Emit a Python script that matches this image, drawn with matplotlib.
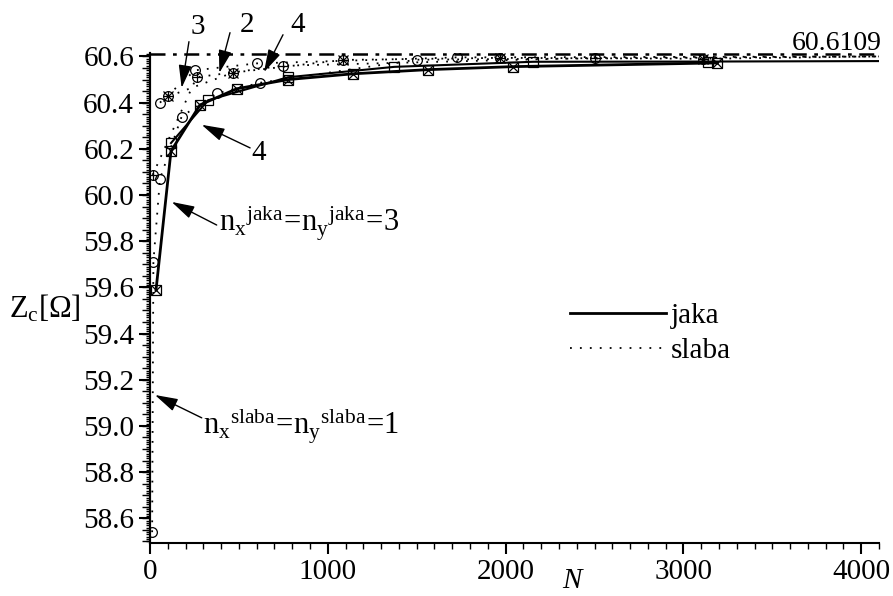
"""Convergence of the characteristic impedance Z_c with the number of unknowns N."""
import matplotlib
matplotlib.use("Agg")
from matplotlib import pyplot as plt
from matplotlib.lines import Line2D
from matplotlib.ticker import MultipleLocator, FormatStrFormatter

plt.rcParams["font.family"] = ["Liberation Serif", "DejaVu Serif"]
plt.rcParams["mathtext.fontset"] = "custom"
plt.rcParams["mathtext.rm"] = "Liberation Serif"
plt.rcParams["mathtext.it"] = "Liberation Serif:italic"

# exact value (dash-dot reference line)
z_exact = 60.6109

# "jaka" (strong) formulation, solid lines
jaka_n3_N = [34, 118, 281, 487, 776, 1143, 1566, 2043, 3190]
jaka_n3_Z = [59.59, 60.19, 60.39, 60.46, 60.50, 60.525, 60.543, 60.556, 60.572]

jaka_n4_N = [118, 326, 776, 1374, 2155, 3140, 4100]
jaka_n4_Z = [60.225, 60.41, 60.51, 60.555, 60.577, 60.578, 60.580]

# "slaba" (weak) formulation, dotted lines
slaba_n1_N = [12, 19, 56, 178, 375, 619, 1500, 4100]
slaba_n1_Z = [58.54, 59.71, 60.07, 60.34, 60.44, 60.486, 60.586, 60.600]

slaba_n2_N = [15, 262, 749, 2503, 4100]
slaba_n2_Z = [60.087, 60.51, 60.56, 60.594, 60.600]

slaba_n3_N = [103, 467, 1087, 1970, 3111, 4100]
slaba_n3_Z = [60.427, 60.53, 60.585, 60.594, 60.59, 60.600]

slaba_n4_N = [56, 253, 600, 1727, 4100]
slaba_n4_Z = [60.40, 60.54, 60.57, 60.596, 60.600]

legend_labels = ["jaka", "slaba"]

fig = plt.figure(figsize=(8.93, 5.96), dpi=100)
ax = fig.add_axes([150 / 893, 53 / 596, 729 / 893, 490 / 596])

dot = (0, (1, 4.5))
mk = dict(markersize=7, markerfacecolor="none", markeredgecolor="k", markeredgewidth=0.9)
last_off = slice(0, -1)

ax.axhline(z_exact, color="k", lw=1.8, dashes=(6, 3, 1.5, 3))

# weak formulation
ax.plot(slaba_n1_N, slaba_n1_Z, color="k", lw=1.3, ls=dot, marker="o", markevery=last_off, **mk)
ax.plot(slaba_n2_N, slaba_n2_Z, color="k", lw=1.3, ls=dot, marker="o", markevery=last_off, **mk)
ax.plot(slaba_n2_N[:-1], slaba_n2_Z[:-1], ls="none", marker="+", **mk)
ax.plot(slaba_n3_N, slaba_n3_Z, color="k", lw=1.3, ls=dot, marker="o", markevery=last_off, **mk)
ax.plot(slaba_n3_N[:-1], slaba_n3_Z[:-1], ls="none", marker="x", **mk)
ax.plot(slaba_n3_N[:-1], slaba_n3_Z[:-1], ls="none", marker="+", **mk)
ax.plot(slaba_n4_N, slaba_n4_Z, color="k", lw=1.3, ls=dot, marker="o", markevery=last_off, **mk)

# strong formulation
ax.plot(jaka_n3_N, jaka_n3_Z, color="k", lw=2.0, marker="s", **mk)
ax.plot(jaka_n3_N, jaka_n3_Z, ls="none", marker="x", **mk)
ax.plot(jaka_n4_N, jaka_n4_Z, color="k", lw=1.5, marker="s", markevery=last_off, **mk)

ax.set_xlim(0, 4100)
ax.set_ylim(58.493, 60.615)

for side in ["top", "right"]:
    ax.spines[side].set_visible(False)
for side in ["left", "bottom"]:
    ax.spines[side].set_linewidth(1.5)

ax.xaxis.set_major_locator(MultipleLocator(1000))
ax.xaxis.set_minor_locator(MultipleLocator(100))
ax.yaxis.set_major_locator(MultipleLocator(0.2))
ax.yaxis.set_minor_locator(MultipleLocator(0.01))
ax.yaxis.set_major_formatter(FormatStrFormatter("%.1f"))
ax.tick_params(which="major", length=8, width=1.5, labelsize=21, direction="out")
ax.tick_params(which="minor", length=4, width=1.0, direction="out")
ax.tick_params(axis="y", which="minor", length=3)

# medium ticks every 0.05 on the y axis
sec = ax.secondary_yaxis("left")
sec.yaxis.set_major_locator(MultipleLocator(0.05))
sec.tick_params(length=5.5, width=1.0, labelleft=False)
sec.spines["left"].set_linewidth(1.5)

fig.text(9 / 893, 1 - 317 / 596, r"Z$_{\mathrm{c}}$[Ω]", fontsize=22, va="baseline")
fig.text(572 / 893, 1 - 588 / 596, "N", fontsize=21, style="italic", ha="center", va="baseline")

ax.text(4118, 60.629, "60.6109", fontsize=20, ha="right", va="baseline", clip_on=False)

arrow = dict(arrowstyle="-|>,head_length=0.7,head_width=0.2", color="k", lw=1.0,
             mutation_scale=20, shrinkA=0, shrinkB=0)

# labels of the weak curves at the top
ax.text(270, 60.727, "3", fontsize=21, ha="center", va="center", clip_on=False)
ax.annotate("", xy=(178, 60.464), xytext=(219, 60.664), arrowprops=arrow, annotation_clip=False)
ax.text(544, 60.737, "2", fontsize=21, ha="center", va="center", clip_on=False)
ax.annotate("", xy=(390, 60.529), xytext=(450, 60.703), arrowprops=arrow, annotation_clip=False)
ax.text(833, 60.737, "4", fontsize=21, ha="center", va="center", clip_on=False)
ax.annotate("", xy=(641, 60.532), xytext=(748, 60.694), arrowprops=arrow, annotation_clip=False)

# label of the strong n=4 curve
ax.text(609, 60.182, "4", fontsize=21, ha="center", va="center")
ax.annotate("", xy=(291, 60.304), xytext=(563, 60.204), arrowprops=arrow)

ax.text(388, 59.84,
        r"$\mathrm{n}_{\mathrm{x}}{}^{\mathrm{jaka}}\!=\!\mathrm{n}_{\mathrm{y}}{}^{\mathrm{jaka}}\!=\!3$",
        fontsize=22, va="baseline")
ax.annotate("", xy=(122, 59.97), xytext=(375, 59.87), arrowprops=arrow)

ax.text(298, 58.961,
        r"$\mathrm{n}_{\mathrm{x}}{}^{\mathrm{slaba}}\!=\!\mathrm{n}_{\mathrm{y}}{}^{\mathrm{slaba}}\!=\!1$",
        fontsize=22, va="baseline")
ax.annotate("", xy=(28, 59.134), xytext=(291, 59.035), arrowprops=arrow)

handles = [Line2D([], [], color="k", lw=2.0),
           Line2D([], [], color="k", lw=1.3, ls=dot)]
ax.legend(handles, legend_labels, loc="upper left", bbox_to_anchor=(0.576, 0.49),
          frameon=False, fontsize=21, handlelength=3.3, handletextpad=0.15,
          labelspacing=0.3, borderpad=0, borderaxespad=0)

fig.savefig("out.png", dpi=100)
